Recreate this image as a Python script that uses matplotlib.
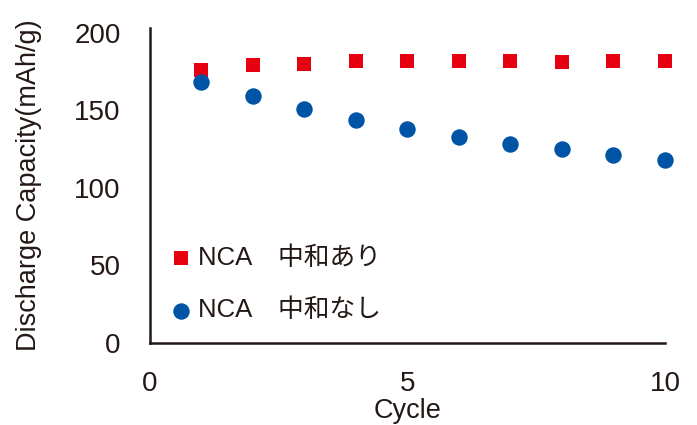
import matplotlib
matplotlib.use("Agg")
import matplotlib.pyplot as plt

plt.rcParams['font.family'] = ['Liberation Sans', 'Noto Sans CJK JP', 'DejaVu Sans']

cycles = [1, 2, 3, 4, 5, 6, 7, 8, 9, 10]
with_neutral = [176, 179, 180, 182, 182, 182, 182, 181, 182, 182]
without_neutral = [168, 159, 151, 144, 138, 133, 128, 125, 121, 118]
labels = ["NCA\u3000中和あり", "NCA\u3000中和なし"]
xticks = [0, 5, 10]
yticks = [0, 50, 100, 150, 200]

fig = plt.figure(figsize=(6.97, 4.25), dpi=100)
ax = fig.add_axes([0.215, 0.193, 0.739, 0.741])

ax.scatter(cycles, with_neutral, marker='s', s=105, color='#E60012', label=labels[0],
           clip_on=False, zorder=3, linewidths=0)
ax.scatter(cycles, without_neutral, marker='o', s=140, color='#0054A6', label=labels[1],
           clip_on=False, zorder=3, linewidths=0)

ax.set_xlim(0, 10)
ax.set_ylim(0, 203)
ax.set_xticks(xticks)
ax.set_yticks(yticks)
for s in ['top', 'right']:
    ax.spines[s].set_visible(False)
for s in ['left', 'bottom']:
    ax.spines[s].set_color('#231815')
    ax.spines[s].set_linewidth(1.8)
ax.tick_params(axis='both', length=0, labelsize=20, colors='#231815')
ax.tick_params(axis='x', pad=20)
ax.tick_params(axis='y', pad=21)
ax.set_xlabel('Cycle', fontsize=19.5, color='#231815', labelpad=1)
ax.set_ylabel('Discharge Capacity(mAh/g)', fontsize=19.5, color='#231815', labelpad=23)

leg = ax.legend(loc='lower left', bbox_to_anchor=(-0.022, -0.02), frameon=False,
                fontsize=18.5, labelspacing=1.1, handletextpad=0.05, borderpad=0.55,
                handlelength=1.2)
for t in leg.get_texts():
    t.set_color('#231815')

fig.savefig('out.png', dpi=100)
